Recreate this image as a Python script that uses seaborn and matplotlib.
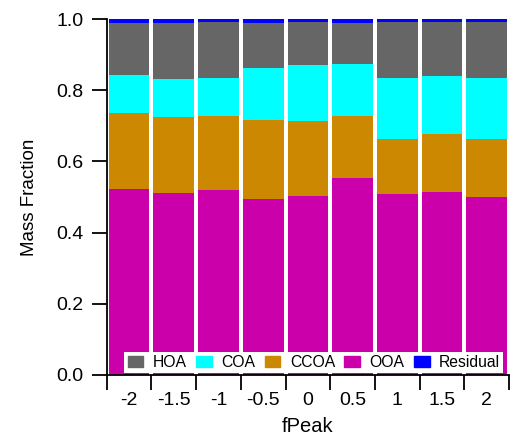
import seaborn as sns
import matplotlib.pyplot as plt
import matplotlib.patches as mpatches
import pandas as pd
import numpy as np

# fPeak 값별 성분 질량분율
fpeak = ["-2", "-1.5", "-1", "-0.5", "0", "0.5", "1", "1.5", "2"]
ooa = [0.522, 0.511, 0.520, 0.494, 0.503, 0.553, 0.508, 0.514, 0.500]
ccoa = [0.214, 0.214, 0.208, 0.222, 0.210, 0.175, 0.155, 0.163, 0.163]
coa = [0.107, 0.106, 0.106, 0.146, 0.158, 0.146, 0.171, 0.163, 0.171]
hoa = [0.146, 0.158, 0.158, 0.127, 0.121, 0.115, 0.158, 0.152, 0.158]
residual = [0.011, 0.011, 0.008, 0.011, 0.008, 0.011, 0.008, 0.008, 0.008]

df = pd.DataFrame({"fPeak": fpeak, "OOA": ooa, "CCOA": ccoa, "COA": coa,
                   "HOA": hoa, "Residual": residual})

# 아래에서 위로 쌓는 순서
stack = ["OOA", "CCOA", "COA", "HOA", "Residual"]
colors = {"HOA": "#666666", "COA": "#00FFFF", "CCOA": "#CC8800",
          "OOA": "#CC00AA", "Residual": "#0000FF"}
cum = df[stack].cumsum(axis=1)

sns.set_theme(style="white")
plt.rcParams["font.family"] = ["Liberation Sans", "DejaVu Sans"]
plt.rcParams.update({"text.color": "black", "axes.labelcolor": "black",
                     "xtick.color": "black", "ytick.color": "black"})

fig = plt.figure(figsize=(5.11, 4.36), dpi=100)
ax = fig.add_axes([0.209, 0.140, 0.787, 0.816])

# 누적 높이를 위에서부터 덮어 그리는 방식으로 스택 막대 구성
for comp in reversed(stack):
    sns.barplot(x=df["fPeak"], y=cum[comp], order=fpeak, color=colors[comp],
                saturation=1, width=0.91, errorbar=None, linewidth=0, ax=ax)

ax.set_xlim(-0.5, 8.5)
ax.set_ylim(0, 1.0)
ax.set_yticks([0, 0.2, 0.4, 0.6, 0.8, 1.0])
ax.set_yticklabels(["0.0", "0.2", "0.4", "0.6", "0.8", "1.0"])

# 막대 사이 경계에 눈금, 라벨은 막대 중앙
ax.set_xticks(np.arange(-0.5, 9, 1), minor=True)
ax.tick_params(axis="x", which="major", length=0, pad=12, labelsize=14)
ax.tick_params(axis="x", which="minor", length=11, width=1.3, direction="out",
               bottom=True)
ax.tick_params(axis="y", which="major", length=11, width=1.3, direction="out",
               left=True, pad=6, labelsize=14)

ax.set_xlabel("fPeak", fontsize=14.5, labelpad=6)
ax.set_ylabel("Mass Fraction", fontsize=13.5, labelpad=13)

for side in ["top", "right"]:
    ax.spines[side].set_visible(False)
for side in ["left", "bottom"]:
    ax.spines[side].set_color("black")
    ax.spines[side].set_linewidth(1.3)

handles = [mpatches.Patch(color=colors[c], label=c)
           for c in ["HOA", "COA", "CCOA", "OOA", "Residual"]]
leg = ax.legend(handles=handles, loc="lower center", bbox_to_anchor=(0.515, 0.005),
                ncol=5, fontsize=11.3, frameon=True, fancybox=False,
                handlelength=1.0, handleheight=0.7, handletextpad=0.6,
                columnspacing=0.6, borderpad=0.2, borderaxespad=0)
leg.get_frame().set_facecolor("white")
leg.get_frame().set_edgecolor("none")
leg.get_frame().set_alpha(1)

fig.savefig("out.png", dpi=100)
